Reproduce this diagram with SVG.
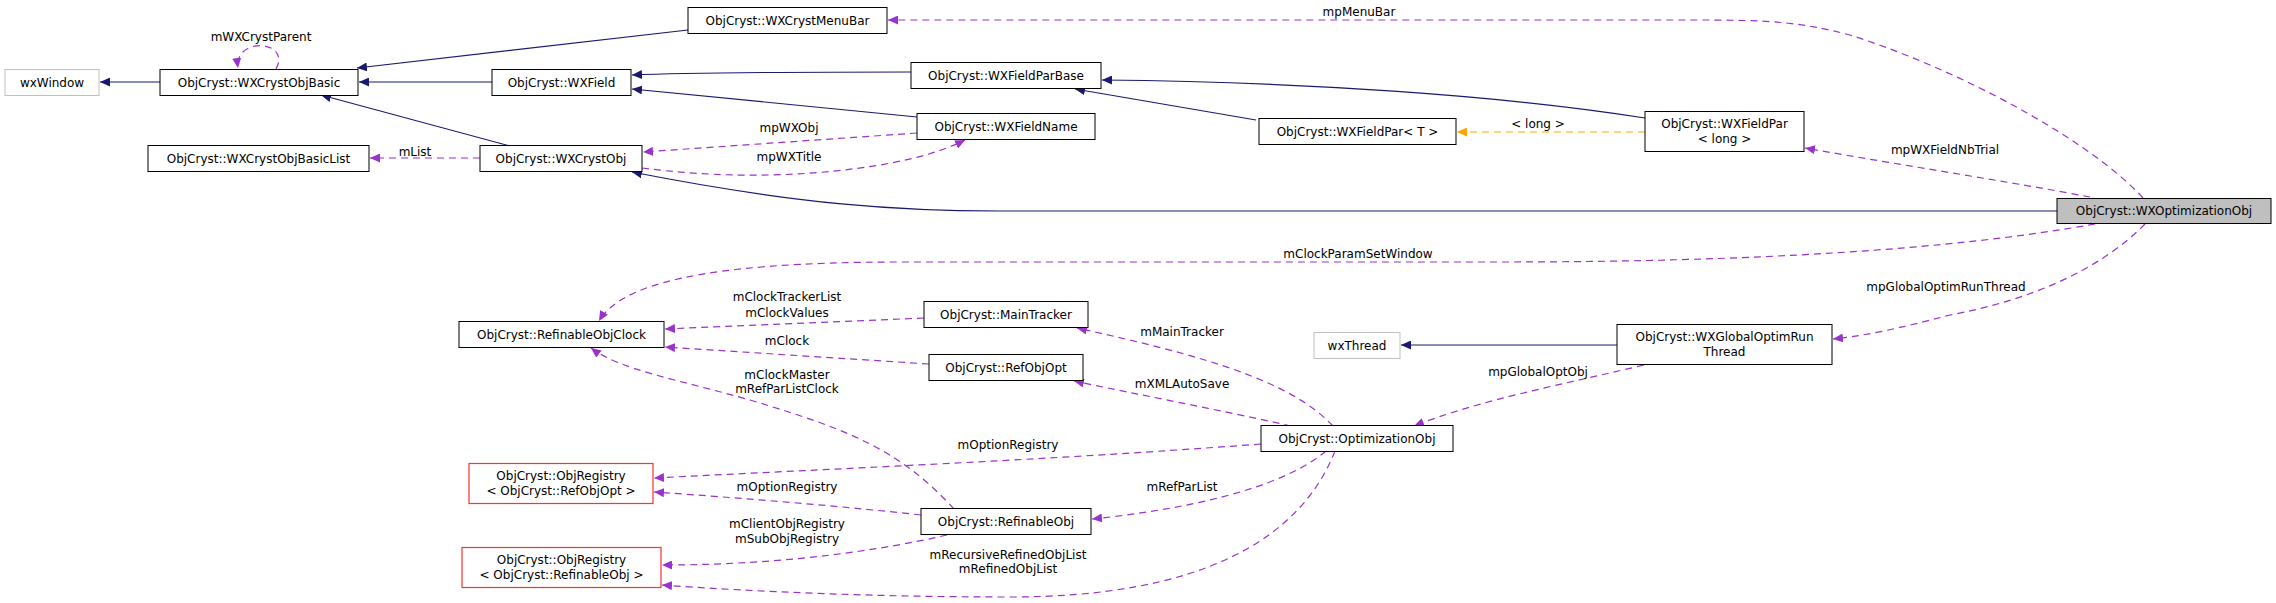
<svg xmlns="http://www.w3.org/2000/svg" width="2276" height="603" viewBox="0 0 2276 603">
<style>
text{font-family:"DejaVu Sans","Liberation Sans",sans-serif;font-size:12px;fill:#000}
.n{text-anchor:middle}
.l{text-anchor:middle}
.b{fill:#fff;stroke:#000;stroke-width:1}
.g{fill:#fff;stroke:#bfbfbf;stroke-width:1}
.r{fill:#fff;stroke:#ff3030;stroke-width:1.2}
.h{fill:#bfbfbf;stroke:#000;stroke-width:1}
.i{fill:none;stroke:#191970;stroke-width:1.2;marker-end:url(#ai)}
.u{fill:none;stroke:#9a32cd;stroke-width:1.2;stroke-dasharray:7,5;marker-end:url(#au)}
.t{fill:none;stroke:#ffa500;stroke-width:1.2;stroke-dasharray:7,5;marker-end:url(#at)}
</style>
<defs>
<marker id="ai" markerUnits="userSpaceOnUse" markerWidth="11" markerHeight="9" refX="10" refY="4.5" orient="auto"><path d="M0,0 L10,4.5 L0,9 z" fill="#191970"/></marker>
<marker id="au" markerUnits="userSpaceOnUse" markerWidth="11" markerHeight="9" refX="10" refY="4.5" orient="auto"><path d="M0,0 L10,4.5 L0,9 z" fill="#9a32cd"/></marker>
<marker id="at" markerUnits="userSpaceOnUse" markerWidth="11" markerHeight="9" refX="10" refY="4.5" orient="auto"><path d="M0,0 L10,4.5 L0,9 z" fill="#ffa500"/></marker>
</defs>
<rect width="2276" height="603" fill="#fff"/>
<g id="edges">
<path class="i" d="M160,82 L100,82"/>
<path class="i" d="M688,30 L357,68"/>
<path class="i" d="M492,82 L359,82"/>
<path class="i" d="M510,146 L321,95"/>
<path class="u" d="M276,69 C292,40 234,36 238,68"/>
<path class="i" d="M911,72 C800,72 700,72 632,75"/>
<path class="i" d="M917,117 L632,89"/>
<path class="u" d="M480,158 L370,158"/>
<path class="u" d="M917,133 L643,152"/>
<path class="u" d="M642,168 C720,178 800,178 880,165 C920,158 945,150 965,140"/>
<path class="i" d="M1256,120 L1075,89"/>
<path class="i" d="M1645,118 C1500,95 1300,82 1102,80"/>
<path class="t" d="M1645,132 L1457,132"/>
<path class="i" d="M2057,211 L1000,211 C900,211 800,205 632,172"/>
<path class="u" d="M2143,198 C2090,140 1960,70 1850,35 C1800,22 1770,20 1700,20 L888,20"/>
<path class="u" d="M2090,197 C2000,180 1900,165 1805,148"/>
<path class="u" d="M2095,224 C1950,250 1750,262 1500,262 L900,262 C700,262 620,285 599,321"/>
<path class="u" d="M2145,224 C2100,270 2030,300 1950,315 C1900,328 1870,335 1833,339"/>
<path class="i" d="M1617,345 L1401,345"/>
<path class="u" d="M1644,365 C1560,385 1480,400 1414,426"/>
<path class="u" d="M924,318 L665,329"/>
<path class="u" d="M929,364 L665,347"/>
<path class="u" d="M954,509 C900,450 850,430 750,400 C680,380 620,370 591,348"/>
<path class="u" d="M1333,426 C1290,380 1200,355 1077,328"/>
<path class="u" d="M1291,426 C1220,410 1140,395 1074,381"/>
<path class="u" d="M1261,444 C1050,460 850,468 654,478"/>
<path class="u" d="M921,515 C830,505 740,498 654,492"/>
<path class="u" d="M1326,451 C1280,490 1180,510 1092,519"/>
<path class="u" d="M947,535 C860,555 760,565 662,565"/>
<path class="u" d="M1335,451 C1300,540 1200,597 1010,597 C880,597 760,592 662,585"/>
</g>
<g id="labels">
<text class="l" x="261" y="41">mWXCrystParent</text>
<text class="l" x="415" y="156">mList</text>
<text class="l" x="789" y="132">mpWXObj</text>
<text class="l" x="789" y="161">mpWXTitle</text>
<text class="l" x="1359" y="16">mpMenuBar</text>
<text class="l" x="1538" y="128">&lt; long &gt;</text>
<text class="l" x="1945" y="154">mpWXFieldNbTrial</text>
<text class="l" x="1358" y="258">mClockParamSetWindow</text>
<text class="l" x="1946" y="291">mpGlobalOptimRunThread</text>
<text class="l" x="1538" y="376">mpGlobalOptObj</text>
<text class="l" x="787" y="301">mClockTrackerList</text>
<text class="l" x="787" y="317">mClockValues</text>
<text class="l" x="787" y="345">mClock</text>
<text class="l" x="787" y="379">mClockMaster</text>
<text class="l" x="787" y="393">mRefParListClock</text>
<text class="l" x="1182" y="336">mMainTracker</text>
<text class="l" x="1182" y="388">mXMLAutoSave</text>
<text class="l" x="1008" y="449">mOptionRegistry</text>
<text class="l" x="787" y="491">mOptionRegistry</text>
<text class="l" x="1182" y="491">mRefParList</text>
<text class="l" x="787" y="528">mClientObjRegistry</text>
<text class="l" x="787" y="543">mSubObjRegistry</text>
<text class="l" x="1008" y="559">mRecursiveRefinedObjList</text>
<text class="l" x="1008" y="573">mRefinedObjList</text>
</g>
<g id="wxWindow"><rect class="g" x="5" y="69.5" width="94" height="26"/><text class="n" x="52" y="87">wxWindow</text></g>
<g id="WXCrystObjBasic"><rect class="b" x="160" y="69.5" width="198" height="26"/><text class="n" x="259" y="87">ObjCryst::WXCrystObjBasic</text></g>
<g id="WXCrystMenuBar"><rect class="b" x="688" y="7.5" width="199" height="26"/><text class="n" x="787.5" y="25">ObjCryst::WXCrystMenuBar</text></g>
<g id="WXField"><rect class="b" x="492" y="69.5" width="139" height="26"/><text class="n" x="561.5" y="87">ObjCryst::WXField</text></g>
<g id="WXCrystObjBasicList"><rect class="b" x="148" y="145.5" width="221" height="26"/><text class="n" x="258.5" y="163">ObjCryst::WXCrystObjBasicList</text></g>
<g id="WXCrystObj"><rect class="b" x="480" y="145.5" width="162" height="26"/><text class="n" x="561" y="163">ObjCryst::WXCrystObj</text></g>
<g id="WXFieldParBase"><rect class="b" x="911" y="62.5" width="190" height="26"/><text class="n" x="1006" y="80">ObjCryst::WXFieldParBase</text></g>
<g id="WXFieldName"><rect class="b" x="917" y="113.5" width="178" height="26"/><text class="n" x="1006" y="131">ObjCryst::WXFieldName</text></g>
<g id="WXFieldParT"><rect class="b" x="1259" y="118.5" width="197" height="26"/><text class="n" x="1357.5" y="136">ObjCryst::WXFieldPar&lt; T &gt;</text></g>
<g id="WXFieldParLong"><rect class="b" x="1645" y="111.5" width="159" height="40"/><text class="n" x="1724.5" y="128">ObjCryst::WXFieldPar</text><text class="n" x="1724.5" y="143">&lt; long &gt;</text></g>
<g id="WXOptimizationObj"><rect class="h" x="2057" y="198.5" width="214" height="25"/><text class="n" x="2164" y="215">ObjCryst::WXOptimizationObj</text></g>
<g id="RefinableObjClock"><rect class="b" x="459" y="321.5" width="205" height="26"/><text class="n" x="561.5" y="339">ObjCryst::RefinableObjClock</text></g>
<g id="MainTracker"><rect class="b" x="924" y="301.5" width="164" height="26"/><text class="n" x="1006" y="319">ObjCryst::MainTracker</text></g>
<g id="RefObjOpt"><rect class="b" x="929" y="354.5" width="154" height="26"/><text class="n" x="1006" y="372">ObjCryst::RefObjOpt</text></g>
<g id="wxThread"><rect class="g" x="1314" y="332.5" width="86" height="26"/><text class="n" x="1357" y="350">wxThread</text></g>
<g id="WXGlobalOptimRunThread"><rect class="b" x="1617" y="324.5" width="215" height="40"/><text class="n" x="1724.5" y="341">ObjCryst::WXGlobalOptimRun</text><text class="n" x="1724.5" y="356">Thread</text></g>
<g id="OptimizationObj"><rect class="b" x="1261" y="425.5" width="192" height="26"/><text class="n" x="1357" y="443">ObjCryst::OptimizationObj</text></g>
<g id="ObjRegistryRefObjOpt"><rect class="r" x="469" y="463.5" width="184" height="40"/><text class="n" x="561" y="480">ObjCryst::ObjRegistry</text><text class="n" x="561" y="495">&lt; ObjCryst::RefObjOpt &gt;</text></g>
<g id="RefinableObj"><rect class="b" x="921" y="508.5" width="170" height="26"/><text class="n" x="1006" y="526">ObjCryst::RefinableObj</text></g>
<g id="ObjRegistryRefinableObj"><rect class="r" x="462" y="547.5" width="199" height="40"/><text class="n" x="561.5" y="564">ObjCryst::ObjRegistry</text><text class="n" x="561.5" y="579">&lt; ObjCryst::RefinableObj &gt;</text></g>
</svg>
